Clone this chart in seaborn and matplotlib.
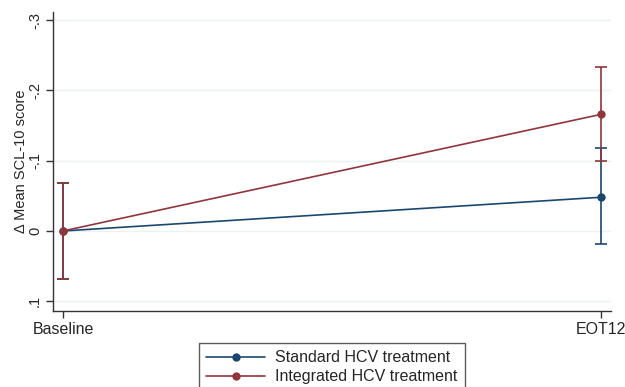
import matplotlib
matplotlib.use("Agg")
import matplotlib.pyplot as plt
import seaborn as sns
import numpy as np
import pandas as pd

timepoints = ["Baseline", "EOT12"]
groups = ["Standard HCV treatment", "Integrated HCV treatment"]
standard_mean = [0.0, -0.048]
standard_lo = [-0.068, -0.118]
standard_hi = [0.068, 0.018]
integrated_mean = [0.0, -0.166]
integrated_lo = [-0.068, -0.233]
integrated_hi = [0.068, -0.100]
yticks = [-0.3, -0.2, -0.1, 0.0, 0.1]
ytick_labels = ["-.3", "-.2", "-.1", "0", ".1"]
colors = ["#1a476f", "#90353b"]

sns.set_style("white")
plt.rcParams["font.family"] = ["Liberation Sans", "DejaVu Sans"]

pos = np.arange(len(timepoints))
df = pd.DataFrame({
    "pos": np.concatenate([pos, pos]),
    "mean": standard_mean + integrated_mean,
    "lo": standard_lo + integrated_lo,
    "hi": standard_hi + integrated_hi,
    "group": [groups[0]] * len(pos) + [groups[1]] * len(pos),
})

fig = plt.figure(figsize=(6.25, 3.87), dpi=100)
ax = fig.add_axes([0.0848, 0.1964, 0.8928, 0.7726])

for y in yticks:
    ax.axhline(y, color="#eaf2f3", lw=1.0, zorder=0)

# confidence intervals
for g, c in zip(groups, colors):
    sub = df[df["group"] == g]
    ax.errorbar(sub["pos"], sub["mean"],
                yerr=[sub["mean"] - sub["lo"], sub["hi"] - sub["mean"]],
                fmt="none", ecolor=c, elinewidth=1.2, capsize=4.3, capthick=1.2, zorder=2)

sns.lineplot(data=df, x="pos", y="mean", hue="group", palette=colors,
             marker="o", markersize=6, markeredgewidth=0, linewidth=1.2,
             ax=ax, legend=True, zorder=3)

ax.set_xlim(-0.0186, 1.0186)
ax.set_ylim(0.1139, -0.3117)
ax.set_xticks(pos)
ax.set_xticklabels(timepoints, fontsize=11.5)
ax.set_yticks(yticks)
ax.set_yticklabels(ytick_labels, fontsize=10.5, rotation=90, va="center")
ax.set_xlabel("")
ax.set_ylabel("Δ Mean SCL-10 score", fontsize=10.5, labelpad=0)
ax.tick_params(axis="both", length=5, width=1, color="#333333", direction="out",
               left=True, bottom=True, pad=3)
for s in ["top", "right"]:
    ax.spines[s].set_visible(False)
for s in ["left", "bottom"]:
    ax.spines[s].set_color("#333333")
    ax.spines[s].set_linewidth(1.0)

handles, labels = ax.get_legend_handles_labels()
ax.legend_.remove()
leg = fig.legend(handles, labels, loc="upper center", bbox_to_anchor=(0.531, 1 - 343 / 387),
                 frameon=True, fancybox=False, fontsize=11.5, handlelength=3.7,
                 borderpad=0.45, labelspacing=0.25, handletextpad=0.6, borderaxespad=0)
leg.get_frame().set_edgecolor("#333333")
leg.get_frame().set_linewidth(1.0)

fig.savefig("out.png", dpi=100)
